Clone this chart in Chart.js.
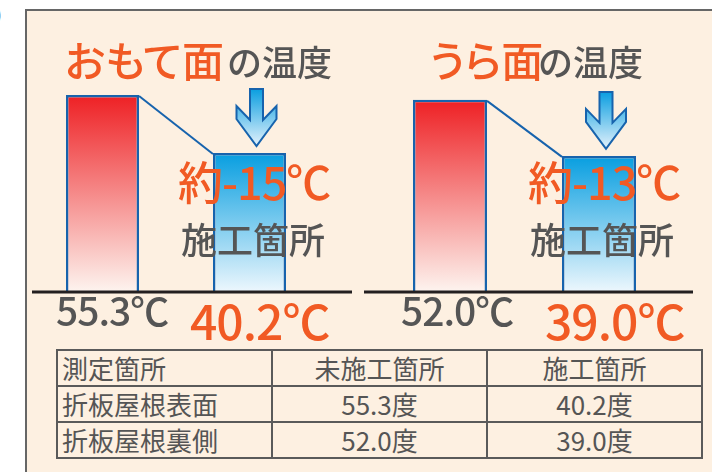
<!DOCTYPE html>
<html>
<head>
<meta charset="utf-8">
<script src="https://cdn.jsdelivr.net/npm/chart.js@4"></script>
<style>
  html, body { margin: 0; padding: 0; background: #fff; }
  body { width: 712px; height: 472px; position: relative; overflow: hidden; font-family: "Noto Sans CJK JP", "Noto Sans", sans-serif; }
  #panel { position: absolute; left: 25px; top: 9px; width: 720px; height: 490px; background: #fdf0e1; border: 2px solid #666; }
  canvas { position: absolute; }
  .txt { position: absolute; white-space: nowrap; line-height: 1; z-index: 5; font-weight: 500; }
  .palt { font-feature-settings: "palt"; }
  .num { font-feature-settings: "palt"; letter-spacing: -1px; }
  table { position: absolute; left: 56px; top: 349px; width: 647px; border-collapse: collapse; z-index: 5; table-layout: fixed; }
  td { border: 2px solid #5a5a5a; height: 34px; padding: 0 4px; font-size: 26px; color: #555; line-height: 1; text-align: center; }
  td.first { text-align: left; }
</style>
</head>
<body>
<div class="txt" style="left:-4px;top:6px;font-size:16px;color:#555;">)</div>
<div id="panel"></div>
<canvas id="leftChart" width="340" height="220" style="left:20px;top:80px;width:340px;height:220px;"></canvas>
<canvas id="rightChart" width="345" height="220" style="left:355px;top:80px;width:345px;height:220px;"></canvas>
<table id="tbl"></table>
<script>
// 温度データ
const categories = ['未施工箇所', '施工箇所'];
const surfaceTemps = [55.3, 40.2];   // おもて面
const backTemps = [52.0, 39.0];      // うら面
const headerLabels = ['測定箇所', '未施工箇所', '施工箇所'];
const rowLabels = ['折板屋根表面', '折板屋根裏側'];

const ORANGE = '#f15a24';
const GRAY = '#555555';
const EDGE = '#1763ad';
const barTop = ['#ee2024', '#079ee0'];
const barBottom = ['#fdf4ef', '#edf7fd'];

// 棒・線・矢印・基準線
const decoPlugin = {
    id: 'deco',
    afterDatasetsDraw(chart, args, opts) {
        const ctx = chart.ctx;
        const bars = chart.getDatasetMeta(0).data;
        const a = bars[0], b = bars[1];
        ctx.save();
        // 結ぶ線
        ctx.strokeStyle = EDGE;
        ctx.lineWidth = 2;
        ctx.beginPath();
        ctx.moveTo(a.x + a.width / 2, a.y + 1);
        ctx.lineTo(b.x - b.width / 2, b.y + 1);
        ctx.stroke();
        // 矢印
        const cx = b.x + 7, tip = b.y - 7, top = tip - 57;
        const g = ctx.createLinearGradient(0, top, 0, tip);
        g.addColorStop(0, '#0a9ee0');
        g.addColorStop(1, '#e4f2fc');
        ctx.beginPath();
        ctx.moveTo(cx - 6.5, top);
        ctx.lineTo(cx + 6.5, top);
        ctx.lineTo(cx + 6.5, top + 31);
        ctx.lineTo(cx + 20, top + 17);
        ctx.lineTo(cx + 20, top + 30);
        ctx.lineTo(cx, tip);
        ctx.lineTo(cx - 20, top + 30);
        ctx.lineTo(cx - 20, top + 17);
        ctx.lineTo(cx - 6.5, top + 31);
        ctx.closePath();
        ctx.fillStyle = g;
        ctx.fill();
        ctx.strokeStyle = EDGE;
        ctx.lineWidth = 2;
        ctx.stroke();
        // 基準線
        ctx.strokeStyle = '#231f20';
        ctx.lineWidth = 3;
        ctx.beginPath();
        ctx.moveTo(opts.from, chart.chartArea.bottom);
        ctx.lineTo(opts.to, chart.chartArea.bottom);
        ctx.stroke();
        ctx.restore();
    }
};

function makeChart(id, values, yMin, yMax, pad, baseFrom, baseTo) {
    return new Chart(document.getElementById(id).getContext('2d'), {
        type: 'bar',
        data: {
            labels: categories,
            datasets: [{
                data: values,
                backgroundColor: (c) => {
                    const chart = c.chart;
                    if (!chart.chartArea) return barTop[c.dataIndex];
                    const ys = chart.scales.y;
                    const y0 = ys.getPixelForValue(c.raw);
                    const y1 = ys.getPixelForValue(yMin);
                    const g = chart.ctx.createLinearGradient(0, y0, 0, y1);
                    g.addColorStop(0, barTop[c.dataIndex]);
                    g.addColorStop(1, barBottom[c.dataIndex]);
                    return g;
                },
                borderColor: EDGE,
                borderWidth: 2.5,
                borderSkipped: false,
                categoryPercentage: 1,
                barPercentage: 0.497,
            }],
        },
        options: {
            responsive: false,
            animation: false,
            devicePixelRatio: 1,
            layout: { padding: pad },
            plugins: { legend: { display: false }, tooltip: { enabled: false }, deco: { from: baseFrom, to: baseTo } },
            scales: {
                x: { display: false },
                y: { display: false, min: yMin, max: yMax },
            },
        },
        plugins: [decoPlugin],
    });
}

makeChart('leftChart', surfaceTemps, 4.0, 59.2, { left: 9, right: 37, top: 0, bottom: 8 }, 12, 332);
makeChart('rightChart', backTemps, 7.43, 56.6, { left: 20.5, right: 26.5, top: 0, bottom: 8 }, 9, 338);

// テキスト（ベースライン指定）
function put(text, x, baseline, size, color, cls) {
    const d = document.createElement('div');
    d.className = 'txt' + (cls ? ' ' + cls : '');
    d.textContent = text;
    d.style.left = x + 'px';
    d.style.top = (baseline - 0.936 * size) + 'px';
    d.style.fontSize = size + 'px';
    d.style.color = color;
    document.body.appendChild(d);
}
const fmt = (v) => v.toFixed(1) + '℃';
const diff = (arr) => '約' + Math.round(arr[1] - arr[0]) + '℃';

put('おもて面', 65, 77, 42, ORANGE, 'palt');
put('の温度', 227, 76, 35, GRAY);
put(diff(surfaceTemps), 178, 200, 45, ORANGE, 'num');
put('施工箇所', 181, 254, 36, GRAY);
put(fmt(surfaceTemps[0]), 56, 327, 39, GRAY, 'num');
put(fmt(surfaceTemps[1]), 190, 340, 48, ORANGE, 'num');

put('うら面', 430, 77, 42, ORANGE, 'palt');
put('の温度', 538, 76, 35, GRAY);
put(diff(backTemps), 528, 200, 45, ORANGE, 'num');
put('施工箇所', 530, 254, 36, GRAY);
put(fmt(backTemps[0]), 401, 327, 39, GRAY, 'num');
put(fmt(backTemps[1]), 545, 340, 48, ORANGE, 'num');

// 表
const tbl = document.getElementById('tbl');
const rows = [headerLabels].concat(rowLabels.map((r, i) => [r, surfaceTemps.concat(backTemps)[i * 2].toFixed(1) + '度', surfaceTemps.concat(backTemps)[i * 2 + 1].toFixed(1) + '度']));
rows.forEach((r) => {
    const tr = document.createElement('tr');
    r.forEach((c, j) => {
        const td = document.createElement('td');
        td.textContent = c;
        if (j === 0) td.className = 'first';
        tr.appendChild(td);
    });
    tbl.appendChild(tr);
});
</script>
</body>
</html>
